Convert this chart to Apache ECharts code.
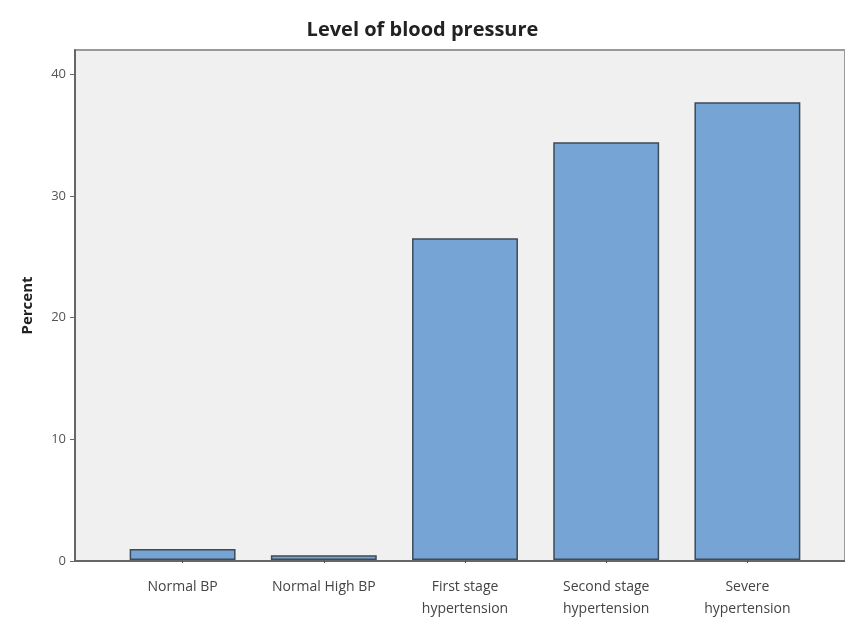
<!DOCTYPE html>
<html>
<head>
<meta charset="utf-8">
<script src="https://cdn.jsdelivr.net/npm/echarts@6/dist/echarts.min.js"></script>
<style>
  html, body { margin: 0; padding: 0; background: #fff; }
  #main { width: 845px; height: 620px; }
</style>
</head>
<body>
<div id="main"></div>
<script>
// categories and percents
var categories = ['Normal BP', 'Normal High BP', 'First stage\nhypertension', 'Second stage\nhypertension', 'Severe\nhypertension'];
var percents = [0.9, 0.4, 26.5, 34.4, 37.7];
var yTicks = [0, 10, 20, 30, 40];

var chart = echarts.init(document.getElementById('main'));
var font = '"Open Sans", "Liberation Sans", sans-serif';

var option = {
    backgroundColor: '#ffffff',
    animation: false,
    title: {
        text: 'Level of blood pressure',
        left: 'center',
        top: 15,
        textStyle: { fontFamily: font, fontSize: 20, fontWeight: 'bold', color: '#222' }
    },
    grid: [
        // frame + y axis (right edge pushed off-canvas, the reference has no right border)
        { left: 75, right: -3, top: 50, bottom: 59, show: true, backgroundColor: '#f0f0f0', borderColor: '#9a9a9a', borderWidth: 2 },
        // bars
        { left: 112, right: 27, top: 50, bottom: 59 }
    ],
    xAxis: [
        {
            gridIndex: 0, type: 'value', min: 0, max: 1,
            axisLine: { show: true, lineStyle: { color: '#666', width: 2 } },
            axisTick: { show: false }, axisLabel: { show: false }, splitLine: { show: false }
        },
        {
            gridIndex: 1, type: 'category', data: categories,
            axisLine: { show: false },
            axisTick: { show: true, alignWithLabel: true, length: 3, lineStyle: { color: '#555' } },
            axisLabel: { interval: 0, fontFamily: font, fontSize: 14, color: '#444', margin: 16, lineHeight: 22 }
        }
    ],
    yAxis: [
        {
            gridIndex: 0, type: 'value', min: 0, max: 42, interval: 10,
            name: 'Percent', nameLocation: 'middle', nameGap: 40,
            nameTextStyle: { fontFamily: font, fontSize: 15, fontWeight: 'bold', color: '#222' },
            axisLine: { show: true, lineStyle: { color: '#666', width: 2 } },
            axisTick: { show: true, length: 5, lineStyle: { color: '#666' } },
            axisLabel: {
                fontFamily: font, fontSize: 13, color: '#555', margin: 9, showMaxLabel: false,
                formatter: function (v) { return yTicks.indexOf(v) >= 0 ? String(v) : ''; }
            },
            splitLine: { show: false }
        },
        {
            gridIndex: 1, type: 'value', min: 0, max: 42, show: false
        }
    ],
    series: [{
        type: 'bar',
        xAxisIndex: 1,
        yAxisIndex: 1,
        data: percents,
        barCategoryGap: '25%',
        itemStyle: { color: '#76a5d5', borderColor: '#3d4a57', borderWidth: 1.5 }
    }]
};
chart.setOption(option);
</script>
</body>
</html>
